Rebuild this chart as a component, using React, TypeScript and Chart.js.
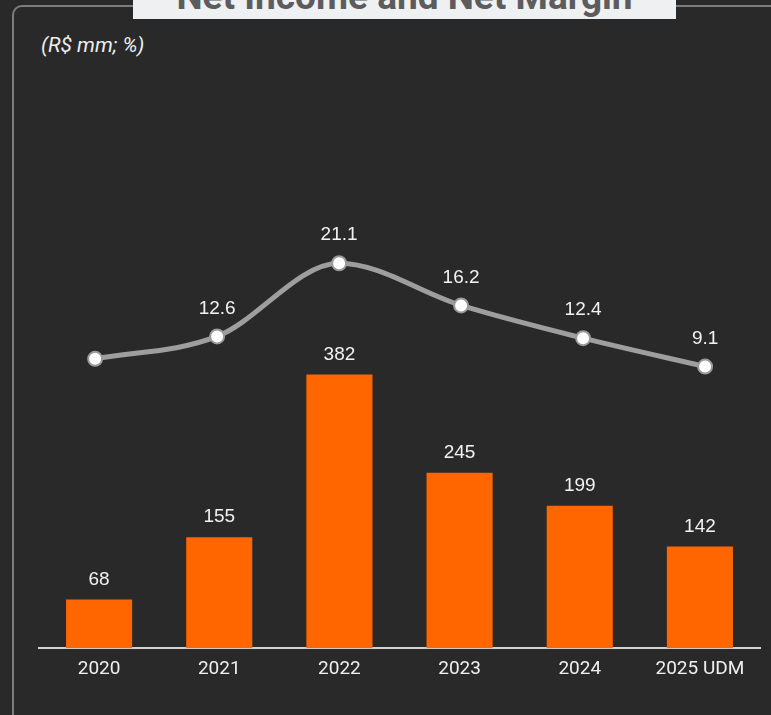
import React, { useEffect, useRef } from "react";
import { Chart, registerables } from "chart.js";

Chart.register(...registerables);

const categories = ["2020", "2021", "2022", "2023", "2024", "2025 UDM"];
const netIncome = [68, 155, 382, 245, 199, 142];
const netMargin = [10.0, 12.6, 21.1, 16.2, 12.4, 9.1];
const marginLabels = ["", "12.6", "21.1", "16.2", "12.4", "9.1"];
const incomeLabels = ["68", "155", "382", "245", "199", "142"];

const labelPlugin = {
  id: "valueLabels",
  afterDatasetsDraw(chart: any) {
    const ctx = chart.ctx;
    ctx.save();
    ctx.fillStyle = "#f2f2f2";
    ctx.font = "19px 'Liberation Sans', Arial, sans-serif";
    ctx.textAlign = "center";
    ctx.textBaseline = "middle";
    const barMeta = chart.getDatasetMeta(0);
    barMeta.data.forEach((el: any, i: number) => {
      ctx.fillText(incomeLabels[i], el.x, el.y - 20);
    });
    const lineMeta = chart.getDatasetMeta(1);
    lineMeta.data.forEach((el: any, i: number) => {
      if (marginLabels[i]) ctx.fillText(marginLabels[i], el.x, el.y - 28);
    });
    ctx.restore();
  },
};

export default function App() {
  const ref = useRef<HTMLCanvasElement | null>(null);
  useEffect(() => {
    document.body.style.margin = "0";
    const chart = new Chart(ref.current as HTMLCanvasElement, {
      type: "bar",
      data: {
        labels: categories,
        datasets: [
          {
            type: "bar",
            data: netIncome,
            backgroundColor: "#ff6600",
            barPercentage: 0.55,
            categoryPercentage: 1,
            grouped: false,
            xAxisID: "x",
            yAxisID: "y",
            order: 2,
          } as any,
          {
            type: "line",
            data: netMargin.map((v, i) => ({ x: i, y: v })),
            borderColor: "#9e9e9e",
            borderWidth: 5,
            cubicInterpolationMode: "monotone",
            pointRadius: 7,
            pointBackgroundColor: "#ffffff",
            pointBorderColor: "#9a9a9a",
            pointBorderWidth: 2,
            xAxisID: "x2",
            yAxisID: "y1",
            order: 1,
          } as any,
        ],
      },
      options: {
        responsive: false,
        animation: false,
        layout: { padding: { left: 39, right: 11, top: 60, bottom: 24 } },
        plugins: { legend: { display: false }, tooltip: { enabled: false } },
        scales: {
          x: {
            grid: { display: false, drawTicks: false },
            border: { display: true, color: "#d0d0d0", width: 2 },
            ticks: {
              color: "#f0f0f0",
              padding: 10,
              font: { family: "Roboto", size: 19 },
            },
          },
          x2: {
            type: "linear",
            display: false,
            offset: false,
            min: -0.46,
            max: 5.45,
          },
          y: { display: false, min: 0, max: 821 },
          y1: { display: false, min: -23.6, max: 44.7 },
        },
      } as any,
      plugins: [labelPlugin],
    });
    return () => chart.destroy();
  }, []);

  return (
    <div
      style={{
        position: "relative",
        width: 771,
        height: 715,
        overflow: "hidden",
        background: "#292929",
      }}
    >
      <div
        style={{
          position: "absolute",
          left: 12,
          top: 5,
          width: 820,
          height: 820,
          border: "2px solid #7c7c7c",
          borderRadius: 10,
        }}
      />
      <div
        style={{
          position: "absolute",
          left: 133,
          top: 0,
          width: 543,
          height: 19,
          background: "#eef0f2",
          overflow: "hidden",
        }}
      >
        <div
          style={{
            position: "absolute",
            left: 0,
            width: 543,
            top: -22,
            textAlign: "center",
            fontFamily: "Roboto, sans-serif",
            fontWeight: 700,
            fontSize: 37,
            lineHeight: "37px",
            color: "#5c5c5c",
            whiteSpace: "nowrap",
          }}
        >
          Net Income and Net Margin
        </div>
      </div>
      <div
        style={{
          position: "absolute",
          left: 41,
          top: 32,
          fontFamily: "Roboto, sans-serif",
          fontStyle: "italic",
          fontSize: 21,
          lineHeight: "26px",
          color: "#eeeeee",
          whiteSpace: "nowrap",
        }}
      >
        (R$ mm; %)
      </div>
      <canvas
        ref={ref}
        width={771}
        height={715}
        style={{ position: "absolute", left: 0, top: 0 }}
      />
    </div>
  );
}
